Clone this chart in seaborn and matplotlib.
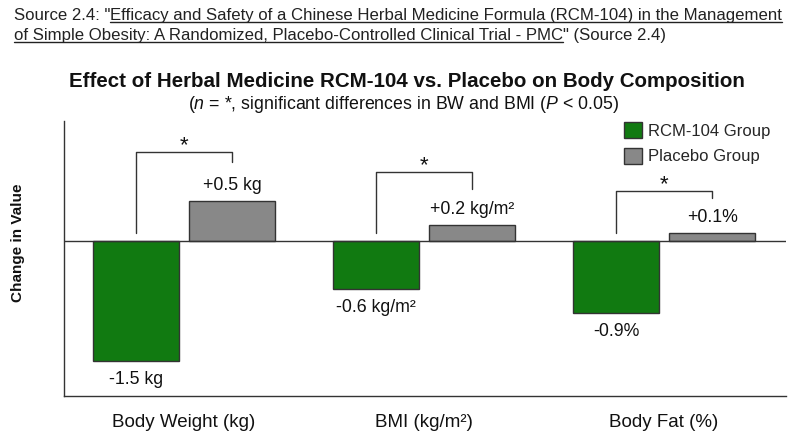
import numpy as np
import pandas as pd
import seaborn as sns
import matplotlib.pyplot as plt

# data
categories = ['Body Weight (kg)', 'BMI (kg/m²)', 'Body Fat (%)']
groups = ['RCM-104 Group', 'Placebo Group']
rcm_values = [-1.5, -0.6, -0.9]
placebo_values = [0.5, 0.2, 0.1]
rcm_labels = ['-1.5 kg', '-0.6 kg/m²', '-0.9%']
placebo_labels = ['+0.5 kg', '+0.2 kg/m²', '+0.1%']
# significance brackets (top of bracket, end of right leg)
bracket_top = [1.11, 0.86, 0.62]
bracket_right = [0.98, 0.65, 0.53]

df = pd.DataFrame({
    'measure': categories * 2,
    'group': [groups[0]] * 3 + [groups[1]] * 3,
    'change': rcm_values + placebo_values,
})

sns.set_style('white')
plt.rcParams['font.family'] = ['Liberation Sans', 'DejaVu Sans']
plt.rcParams['mathtext.fontset'] = 'custom'
plt.rcParams['mathtext.rm'] = 'Liberation Sans'
plt.rcParams['mathtext.it'] = 'Liberation Sans:italic'

fig = plt.figure(figsize=(8, 4.36), dpi=100)
ax = fig.add_axes([64 / 800, 40 / 436, 722 / 800, 275 / 436])

sns.barplot(data=df, x='measure', y='change', hue='group', order=categories,
            hue_order=groups, palette=['#117a11', '#888888'], width=0.8, gap=0.1,
            edgecolor='#333333', linewidth=1, saturation=1, ax=ax, errorbar=None)

ax.set_xlim(-0.5, 2.508)
ax.set_ylim(-1.941, 1.496)
ax.axhline(0, color='#333333', lw=1, zorder=3)
for s in ['top', 'right']:
    ax.spines[s].set_visible(False)
for s in ['left', 'bottom']:
    ax.spines[s].set_color('#333333')
    ax.spines[s].set_linewidth(1)
ax.set_yticks([])
ax.tick_params(axis='x', length=0, pad=13, labelsize=13.5, labelcolor='#111111')
ax.set_xlabel('')
ax.set_ylabel('Change in Value', fontsize=11, fontweight='bold', color='#111111')
ax.yaxis.set_label_coords(-0.054, 0.556)

for i in range(len(categories)):
    ax.annotate(rcm_labels[i], (i - 0.2, rcm_values[i]), xytext=(0, -10),
                textcoords='offset pixels', ha='center', va='top', fontsize=12.8,
                color='#111111')
    ax.annotate(placebo_labels[i], (i + 0.2, placebo_values[i]), xytext=(0, 7),
                textcoords='offset pixels', ha='center', va='bottom', fontsize=12.8,
                color='#111111')
    ax.plot([i - 0.2, i - 0.2, i + 0.2, i + 0.2],
            [0.1, bracket_top[i], bracket_top[i], bracket_right[i]],
            color='#333333', lw=1)
    ax.annotate('*', (i, bracket_top[i]), xytext=(0, 1), textcoords='offset pixels',
                ha='center', va='baseline', fontsize=16, color='#111111')

handles, labels = ax.get_legend_handles_labels()
ax.legend(handles, labels, loc='upper left', bbox_to_anchor=(624 / 800, 1 - 122 / 436),
          bbox_transform=fig.transFigure, frameon=False, borderpad=0, fontsize=12,
          handlelength=1.1, handleheight=1.1, labelspacing=0.55, handletextpad=0.35,
          borderaxespad=0)

fig.text(0.509, 1 - 87 / 436, 'Effect of Herbal Medicine RCM-104 vs. Placebo on Body Composition',
         ha='center', va='baseline', fontsize=14.8, fontweight='bold', color='#111111')
fig.text(0.504, 1 - 109 / 436,
         '($\\it{n}$ = *, significant differences in BW and BMI ($\\it{P}$ < 0.05)',
         ha='center', va='baseline', fontsize=12.8, color='#111111')

# source text with underlined link
fig.canvas.draw()
renderer = fig.canvas.get_renderer()
src_font = dict(fontsize=12.05, color='#222222')


def put(x, y, s, underline=False):
    t = fig.text(x / 800, 1 - y / 436, s, ha='left', va='baseline', **src_font)
    bb = t.get_window_extent(renderer)
    if underline:
        fig.add_artist(plt.Line2D([bb.x0, bb.x1], [fig.bbox.height - y - 2.5] * 2,
                                  transform=None, color='#222222', lw=1))
    return bb.x1


x = put(14, 20, 'Source 2.4: "')
put(x, 20, 'Efficacy and Safety of a Chinese Herbal Medicine Formula (RCM-104) in the Management',
    underline=True)
x = put(14, 40, 'of Simple Obesity: A Randomized, Placebo-Controlled Clinical Trial - PMC', underline=True)
put(x, 40, '" (Source 2.4)')

fig.savefig('out.png', dpi=100)
